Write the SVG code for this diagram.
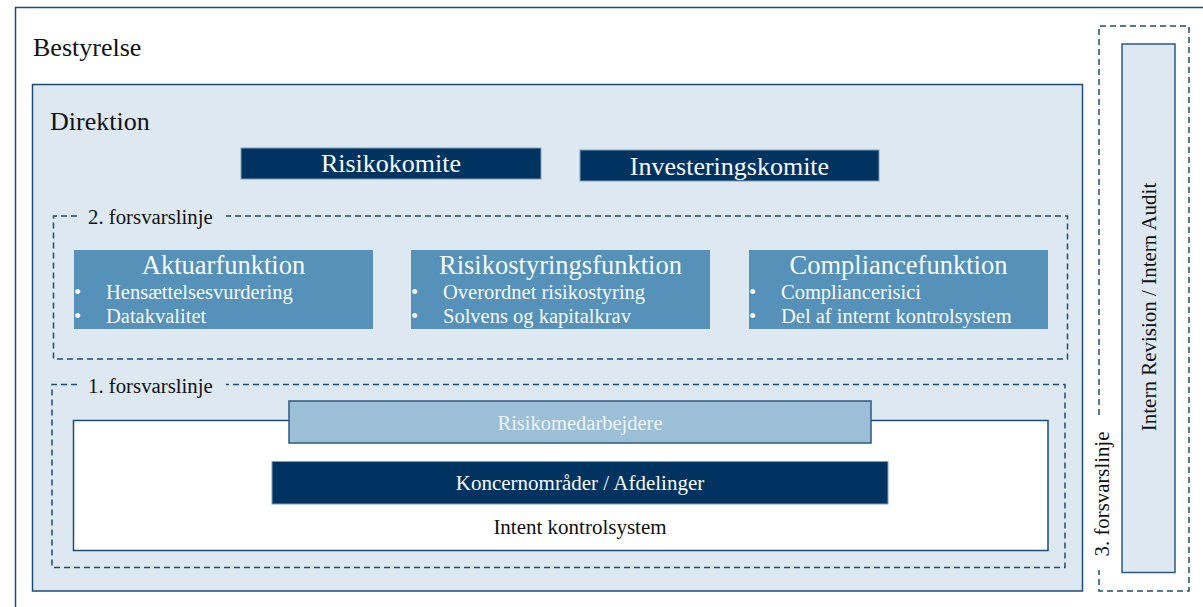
<svg xmlns="http://www.w3.org/2000/svg" width="1203" height="607" viewBox="0 0 1203 607">
  <style>
    text { font-family: "Liberation Serif", "Times New Roman", serif; }
    .frame { stroke: #1d4b79; stroke-width: 1.5; }
    .dash { fill: none; stroke: #1d4b79; stroke-width: 1.5; stroke-dasharray: 6 4; }
    .navy { fill: #003360; stroke: #7f9fba; stroke-width: 1; }
    .func { fill: #5591b8; }
    .lbl { font-size: 26px; fill: #111; }
    .line { font-size: 20.8px; fill: #111; }
    .wt { fill: #f7fafc; }
    .head { font-size: 26.5px; fill: #f7fafc; text-anchor: middle; }
    .item { font-size: 20.5px; fill: #f7fafc; }
  </style>
  <rect width="1203" height="607" fill="#ffffff"/>

  <g id="bestyrelse">
    <rect class="frame" x="15.5" y="7.5" width="1200" height="610" fill="#ffffff"/>
    <text class="lbl" x="33" y="56">Bestyrelse</text>
  </g>

  <g id="direktion">
    <rect class="frame" x="32.5" y="84.5" width="1050" height="506.5" fill="#dde8f1"/>
    <text class="lbl" x="50" y="130">Direktion</text>
  </g>

  <g id="risikokomite">
    <rect class="navy" x="241" y="148" width="300" height="31"/>
    <text class="wt" x="391" y="172" font-size="26" text-anchor="middle">Risikokomite</text>
  </g>

  <g id="investeringskomite">
    <rect class="navy" x="580" y="150" width="299" height="31"/>
    <text class="wt" x="729.5" y="175" font-size="26" text-anchor="middle">Investeringskomite</text>
  </g>

  <g id="forsvarslinje2">
    <path class="dash" d="M 77 216 H 53.5 V 359 H 1067.5 V 216 H 226"/>
    <text class="line" x="88" y="224">2. forsvarslinje</text>
  </g>

  <g id="aktuarfunktion">
    <rect class="func" x="74" y="250" width="299" height="79"/>
    <text class="head" x="223.5" y="274">Aktuarfunktion</text>
    <text class="item" x="74" y="299">•</text>
    <text class="item" x="106" y="299">Hensættelsesvurdering</text>
    <text class="item" x="74" y="323">•</text>
    <text class="item" x="106" y="323">Datakvalitet</text>
  </g>

  <g id="risikostyringsfunktion">
    <rect class="func" x="411" y="250" width="299" height="79"/>
    <text class="head" x="560.5" y="274">Risikostyringsfunktion</text>
    <text class="item" x="411" y="299">•</text>
    <text class="item" x="443" y="299">Overordnet risikostyring</text>
    <text class="item" x="411" y="323">•</text>
    <text class="item" x="443" y="323">Solvens og kapitalkrav</text>
  </g>

  <g id="compliancefunktion">
    <rect class="func" x="749" y="250" width="299" height="79"/>
    <text class="head" x="898.5" y="274">Compliancefunktion</text>
    <text class="item" x="749" y="299">•</text>
    <text class="item" x="781" y="299">Compliancerisici</text>
    <text class="item" x="749" y="323">•</text>
    <text class="item" x="781" y="323">Del af internt kontrolsystem</text>
  </g>

  <g id="forsvarslinje1">
    <path class="dash" d="M 77 384.5 H 52 V 567.5 H 1065 V 384.5 H 226"/>
    <text class="line" x="88" y="393">1. forsvarslinje</text>
  </g>

  <g id="intern-kontrolsystem">
    <rect class="frame" x="73.5" y="420.5" width="974.5" height="130" fill="#ffffff"/>
    <text x="580" y="534" font-size="21" fill="#111" text-anchor="middle">Intent kontrolsystem</text>
  </g>

  <g id="risikomedarbejdere">
    <rect x="289" y="401" width="582" height="42" fill="#9bbfd6" stroke="#2d5880" stroke-width="1.5"/>
    <text x="580" y="429.5" font-size="20.5" fill="#eef4f8" text-anchor="middle">Risikomedarbejdere</text>
  </g>

  <g id="koncernomraader">
    <rect x="272" y="461.5" width="616" height="42.5" fill="#003360" stroke="#7f9fba" stroke-width="1"/>
    <text class="wt" x="580" y="490" font-size="21" text-anchor="middle">Koncernområder / Afdelinger</text>
  </g>

  <g id="forsvarslinje3">
    <path class="dash" d="M 1099 415 V 26 H 1189 V 591 H 1099 V 570"/>
    <text class="line" transform="translate(1109 494) rotate(-90)" text-anchor="middle">3. forsvarslinje</text>
  </g>

  <g id="intern-revision">
    <rect x="1122" y="44" width="53" height="528.5" fill="#dde8f1" stroke="#2d5880" stroke-width="1.5"/>
    <text transform="translate(1156 307) rotate(-90)" font-size="21" fill="#111" text-anchor="middle">Intern Revision / Intern Audit</text>
  </g>

  <g id="connectors"></g>
</svg>
